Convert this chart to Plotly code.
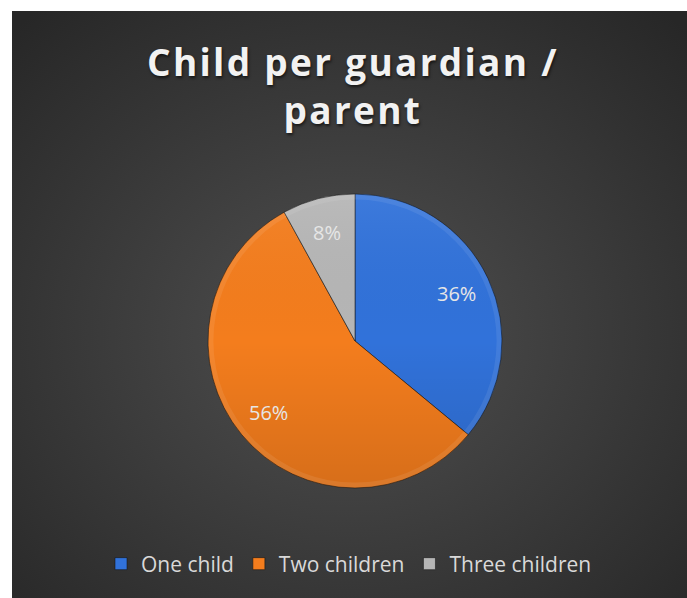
import base64
import math
import plotly.graph_objects as go

# Data
categories = ["One child", "Two children", "Three children"]
shares = [36, 56, 8]
slice_colors = ["#3172da", "#f47d1d", "#b6b6b6"]

W, H = 687, 598


def svg_uri(svg):
    return "data:image/svg+xml;base64," + base64.b64encode(svg.encode()).decode()


# Dark radial-gradient panel behind the chart
panel_svg = (
    '<svg xmlns="http://www.w3.org/2000/svg" width="675" height="587">'
    '<defs><radialGradient id="g" cx="0.5" cy="0.55" r="0.72">'
    '<stop offset="0" stop-color="#505050"/>'
    '<stop offset="1" stop-color="#272727"/>'
    '</radialGradient></defs>'
    '<rect width="675" height="587" fill="url(#g)"/></svg>'
)

# Soft top-to-bottom shading laid over the pie disc
shade_svg = (
    '<svg xmlns="http://www.w3.org/2000/svg" width="300" height="300">'
    '<defs><linearGradient id="s" x1="0" y1="0" x2="0" y2="1">'
    '<stop offset="0" stop-color="#ffffff" stop-opacity="0.06"/>'
    '<stop offset="0.5" stop-color="#000000" stop-opacity="0"/>'
    '<stop offset="1" stop-color="#000000" stop-opacity="0.12"/>'
    '</linearGradient></defs>'
    '<circle cx="150" cy="150" r="149" fill="url(#s)"/>'
    '<circle cx="150" cy="150" r="146" fill="none" stroke="#ffffff" stroke-opacity="0.08" stroke-width="5"/>'
    '</svg>'
)

# Pie centre and radius in pixels
cx, cy, r = 355, 341, 147

fig = go.Figure(
    go.Pie(
        labels=categories,
        values=shares,
        sort=False,
        direction="clockwise",
        rotation=0,
        marker=dict(colors=slice_colors, line=dict(color="rgba(20,20,20,0.55)", width=1)),
        textinfo="none",
        hoverinfo="label+percent",
        domain=dict(x=[(cx - r) / W, (cx + r) / W], y=[(H - cy - r) / H, (H - cy + r) / H]),
    )
)

# Percentage labels placed along each slice's mid-angle
total = sum(shares)
annotations = []
start = 0.0
for v in shares:
    mid = (start + v / 2) / total * 2 * math.pi
    start += v
    lx = cx + 0.76 * r * math.sin(mid)
    ly = cy - 0.76 * r * math.cos(mid)
    annotations.append(
        dict(
            text=f"{round(v / total * 100)}%",
            x=lx / W, y=1 - ly / H, xref="paper", yref="paper",
            xanchor="center", yanchor="middle", showarrow=False,
            font=dict(family="Open Sans", size=20, color="#e6e6e6"),
        )
    )

# Chart title
annotations.append(
    dict(
        text='<span style="letter-spacing:2.3px">Child per guardian /</span><br>'
             '<span style="letter-spacing:2.3px">parent</span>',
        x=353 / W, y=1 - 85 / H, xref="paper", yref="paper",
        xanchor="center", yanchor="middle", showarrow=False,
        font=dict(family="Open Sans", size=37, color="#f2f2f2", weight="bold",
                  shadow="1px 2px 3px rgba(0,0,0,0.6)"),
    )
)

fig.update_layout(
    width=W,
    height=H,
    margin=dict(l=0, r=0, t=0, b=0),
    paper_bgcolor="white",
    plot_bgcolor="rgba(0,0,0,0)",
    images=[
        dict(
            source=svg_uri(panel_svg),
            xref="paper", yref="paper",
            x=12 / W, y=1 - 11 / H,
            sizex=(W - 12) / W, sizey=(H - 11) / H,
            xanchor="left", yanchor="top",
            sizing="stretch",
            layer="below",
        ),
        dict(
            source=svg_uri(shade_svg),
            xref="paper", yref="paper",
            x=(cx - r - 1) / W, y=1 - (cy - r - 1) / H,
            sizex=(2 * r + 2) / W, sizey=(2 * r + 2) / H,
            xanchor="left", yanchor="top",
            sizing="stretch",
            layer="above",
        ),
    ],
    annotations=annotations,
    showlegend=True,
    legend=dict(
        orientation="h",
        x=349 / W, xanchor="center",
        y=1 - 564 / H, yanchor="middle",
        font=dict(family="Open Sans", size=21, color="#d9d9d9"),
        bgcolor="rgba(0,0,0,0)",
        traceorder="normal",
    ),
)

fig.write_html("out.html")
